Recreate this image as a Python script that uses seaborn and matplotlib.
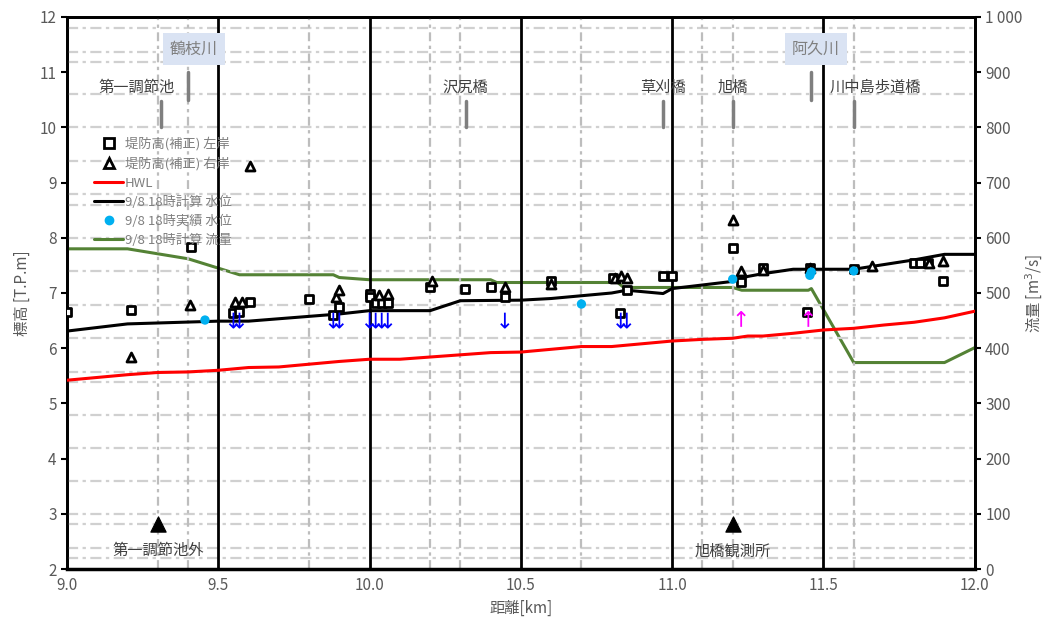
import numpy as np
import pandas as pd
import matplotlib
matplotlib.use("Agg")
import matplotlib.pyplot as plt
import seaborn as sns
from matplotlib.lines import Line2D
from matplotlib.ticker import FuncFormatter, MultipleLocator

# ---------------- data ----------------
hwl_x = [9.0, 9.2, 9.3, 9.4, 9.5, 9.6, 9.7, 9.8, 9.9, 10.0, 10.1, 10.2, 10.3, 10.4, 10.5, 10.6,
         10.7, 10.8, 10.9, 11.0, 11.1, 11.2, 11.25, 11.3, 11.4, 11.5, 11.6, 11.7, 11.8, 11.9, 12.0]
hwl_y = [5.42, 5.52, 5.56, 5.57, 5.60, 5.65, 5.66, 5.71, 5.76, 5.80, 5.80, 5.84, 5.88, 5.92, 5.93, 5.98,
         6.03, 6.03, 6.08, 6.13, 6.16, 6.18, 6.22, 6.22, 6.27, 6.33, 6.36, 6.42, 6.47, 6.55, 6.67]

calc_x = [9.0, 9.2, 9.5, 9.6, 9.9, 10.0, 10.2, 10.3, 10.5, 10.6, 10.8, 10.85, 10.97, 11.0, 11.2,
          11.25, 11.3, 11.4, 11.6, 11.8, 11.9, 12.0]
calc_y = [6.31, 6.44, 6.49, 6.49, 6.62, 6.68, 6.68, 6.86, 6.87, 6.90, 7.00, 7.05, 6.99, 7.08, 7.21,
          7.30, 7.35, 7.43, 7.43, 7.60, 7.70, 7.70]

flow_x = [9.0, 9.2, 9.4, 9.5, 9.57, 9.88, 9.9, 10.0, 10.4, 10.42, 10.82, 10.84, 11.2, 11.23,
          11.45, 11.46, 11.6, 11.9, 12.0]
flow_q = [580, 580, 562, 545, 533, 533, 528, 524, 524, 519, 519, 510, 510, 505, 505, 508, 374, 374, 401]

lb_x = [9.0, 9.21, 9.41, 9.55, 9.57, 9.605, 9.80, 9.88, 9.90, 10.0, 10.0, 10.02, 10.04, 10.06, 10.2,
        10.315, 10.4, 10.447, 10.6, 10.805, 10.827, 10.85, 10.97, 11.0, 11.2, 11.228, 11.3, 11.446,
        11.455, 11.6, 11.8, 11.82, 11.845, 11.895]
lb_y = [6.66, 6.70, 7.84, 6.63, 6.66, 6.84, 6.90, 6.60, 6.75, 6.99, 6.93, 6.81, 6.81, 6.81, 7.11,
        7.07, 7.11, 6.93, 7.22, 7.28, 6.64, 7.06, 7.31, 7.31, 7.81, 7.20, 7.45, 6.66,
        7.45, 7.44, 7.54, 7.54, 7.54, 7.22]

rb_x = [9.21, 9.405, 9.555, 9.577, 9.605, 9.89, 9.90, 10.03, 10.06, 10.205, 10.447, 10.6, 10.81,
        10.83, 10.85, 11.2, 11.228, 11.3, 11.455, 11.66, 11.85, 11.895]
rb_y = [5.84, 6.79, 6.84, 6.84, 9.30, 6.93, 7.05, 6.97, 6.99, 7.22, 7.11, 7.17, 7.27,
        7.30, 7.28, 8.32, 7.40, 7.42, 7.46, 7.49, 7.55, 7.58]

obs_x = [9.456, 10.70, 11.20, 11.455, 11.46, 11.6]
obs_y = [6.51, 6.80, 7.25, 7.32, 7.38, 7.40]

down_x = [9.55, 9.57, 9.88, 9.90, 10.0, 10.02, 10.04, 10.06, 10.447, 10.83, 10.85]
down_y = [6.5] * len(down_x)
up_x = [11.228, 11.45]
up_y = [6.53, 6.53]

gauge_x = [9.3, 11.2]
gauge_y = [2.82, 2.82]
gauge_names = ["第一調節池外", "旭橋観測所"]

bridge_names = ["第一調節池", "沢尻橋", "草刈橋", "旭橋", "川中島歩道橋"]
bridge_label_x = [9.23, 10.315, 10.97, 11.20, 11.67]
bridge_x = [9.31, 10.32, 10.97, 11.20, 11.60]
trib_names = ["鶴枝川", "阿久川"]
trib_label_x = [9.42, 11.475]
trib_x = [9.40, 11.46]

minor_vx = [9.3, 9.4, 9.8, 10.2, 10.3, 10.7, 11.1, 11.2, 11.6]
major_vx = [9.5, 10.0, 10.5, 11.0, 11.5]
hgrid_y = [11.8, 11.37, 11.19, 10.6, 10.0, 9.39, 8.8, 8.6, 8.0, 7.4, 6.78, 6.18, 5.57, 5.39,
           4.79, 4.19, 3.6, 3.0, 2.82, 2.38, 2.2]

# ---------------- style ----------------
sns.set_style("white")
plt.rcParams['font.family'] = ['Noto Sans CJK JP', 'DejaVu Sans']
GRAY = '#595959'

fig = plt.figure(figsize=(10.47, 6.21), dpi=100)
ax = fig.add_axes([0.064, 0.0837, 0.867, 0.889])
ax2 = ax.twinx()

ax.set_xlim(9.0, 12.0)
ax.set_ylim(2, 12)
ax2.set_ylim(0, 1000)

# grid lines
for yv in hgrid_y:
    ax.axhline(yv, color='#D0D0D0', lw=1.6, ls=(0, (5, 2, 1.5, 2)), zorder=0.5)
for xv in minor_vx:
    ax.axvline(xv, color='#BDBDBD', lw=1.6, ls=(0, (4, 2, 1.5, 2)), zorder=0.6)
for xv in major_vx:
    ax.axvline(xv, color='black', lw=2.0, zorder=0.7)

# lines
df_hwl = pd.DataFrame({'x': hwl_x, 'y': hwl_y})
df_calc = pd.DataFrame({'x': calc_x, 'y': calc_y})
df_flow = pd.DataFrame({'x': flow_x, 'q': flow_q})
sns.lineplot(data=df_hwl, x='x', y='y', ax=ax, color='#FF0000', lw=2.2, estimator=None, sort=False, zorder=3)
sns.lineplot(data=df_calc, x='x', y='y', ax=ax, color='black', lw=2.2, estimator=None, sort=False, zorder=3)
sns.lineplot(data=df_flow, x='x', y='q', ax=ax2, color='#548235', lw=2.2, estimator=None, sort=False, zorder=3)

# markers
df_lb = pd.DataFrame({'x': lb_x, 'y': lb_y})
df_rb = pd.DataFrame({'x': rb_x, 'y': rb_y})
df_obs = pd.DataFrame({'x': obs_x, 'y': obs_y})
sns.scatterplot(data=df_lb, x='x', y='y', ax=ax, marker='s', s=40,
                facecolor='white', edgecolor='black', linewidth=2.0, zorder=5)
sns.scatterplot(data=df_rb, x='x', y='y', ax=ax, marker='^', s=42,
                facecolor='white', edgecolor='black', linewidth=2.0, zorder=5)
sns.scatterplot(data=df_obs, x='x', y='y', ax=ax, marker='o', s=45,
                color='#00B0F0', edgecolor='none', zorder=6)
sns.scatterplot(x=down_x, y=down_y, ax=ax, marker=r'$\downarrow$', s=130,
                color='#0000FF', edgecolor='none', zorder=6)
sns.scatterplot(x=up_x, y=up_y, ax=ax, marker=r'$\uparrow$', s=130,
                color='#FF00FF', edgecolor='none', zorder=6)
sns.scatterplot(x=gauge_x, y=gauge_y, ax=ax, marker='^', s=120,
                color='black', edgecolor='black', zorder=6)

# bring primary axis above secondary
ax.set_zorder(ax2.get_zorder() + 1)
ax.patch.set_visible(False)

# annotations
for name, lx, bx in zip(bridge_names, bridge_label_x, bridge_x):
    ax.text(lx, 10.73, name, ha='center', va='center', fontsize=11, color='#404040', zorder=7)
    ax.plot([bx, bx], [10.0, 10.47], color='#7F7F7F', lw=2.5, zorder=7)
for name, lx, bx in zip(trib_names, trib_label_x, trib_x):
    ax.text(lx, 11.42, name, ha='center', va='center', fontsize=11.5, color='#7F7F7F', zorder=7,
            bbox=dict(boxstyle='square,pad=0.45', fc='#DAE3F3', ec='none'))
    ax.plot([bx, bx], [10.5, 11.0], color='#7F7F7F', lw=2.5, zorder=7)
for name, gx in zip(gauge_names, gauge_x):
    ax.text(gx, 2.33, name, ha='center', va='center', fontsize=11, color='#404040', zorder=7)

# axes formatting
ax.xaxis.set_major_locator(MultipleLocator(0.5))
ax.xaxis.set_major_formatter(FuncFormatter(lambda v, p: f"{v:.1f}"))
ax.yaxis.set_major_locator(MultipleLocator(1))
ax.yaxis.set_major_formatter(FuncFormatter(lambda v, p: f"{int(round(v))}"))
ax2.yaxis.set_major_locator(MultipleLocator(100))
ax2.yaxis.set_major_formatter(FuncFormatter(lambda v, p: f"{int(v):,}".replace(",", " ")))

ax.set_xlabel("距離[km]", fontsize=11, color=GRAY, labelpad=4)
ax.set_ylabel("標高 [T.P.m]", fontsize=11, color=GRAY, labelpad=6)
ax2.set_ylabel("流量 [m$^3$/s]", fontsize=11, color=GRAY, labelpad=1)

ax.tick_params(axis='both', colors='black', labelcolor=GRAY, labelsize=11, direction='out', length=4, width=1.5)
ax.tick_params(axis='x', length=0, pad=6)
ax2.tick_params(axis='y', colors='black', labelcolor=GRAY, labelsize=11, direction='out', length=4, width=1.5)
ax.tick_params(axis='y', left=True)
ax2.tick_params(axis='y', right=True)

for a in (ax, ax2):
    for sp in a.spines.values():
        sp.set_color('black')
        sp.set_linewidth(2.0)
        sp.set_visible(True)
ax.spines['bottom'].set_linewidth(2.5)

# legend
handles = [
    Line2D([], [], marker='s', ls='none', markersize=7, markerfacecolor='white', markeredgecolor='black', markeredgewidth=2),
    Line2D([], [], marker='^', ls='none', markersize=7, markerfacecolor='white', markeredgecolor='black', markeredgewidth=2),
    Line2D([], [], color='#FF0000', lw=2.2),
    Line2D([], [], color='black', lw=2.2),
    Line2D([], [], marker='o', ls='none', markersize=6, color='#00B0F0'),
    Line2D([], [], color='#548235', lw=2.2),
]
labels = ["堤防高(補正) 左岸", "堤防高(補正) 右岸", "HWL", "9/8 18時計算 水位", "9/8 18時実績 水位", "9/8 18時計算 流量"]
leg = ax.legend(handles, labels, loc='upper left', bbox_to_anchor=(0.024, 0.792), frameon=False,
                fontsize=9.5, labelcolor='#7F7F7F', handlelength=2.2, handletextpad=0.15,
                labelspacing=0.45, borderaxespad=0)
leg.set_zorder(8)

fig.savefig("out.png", dpi=100)
